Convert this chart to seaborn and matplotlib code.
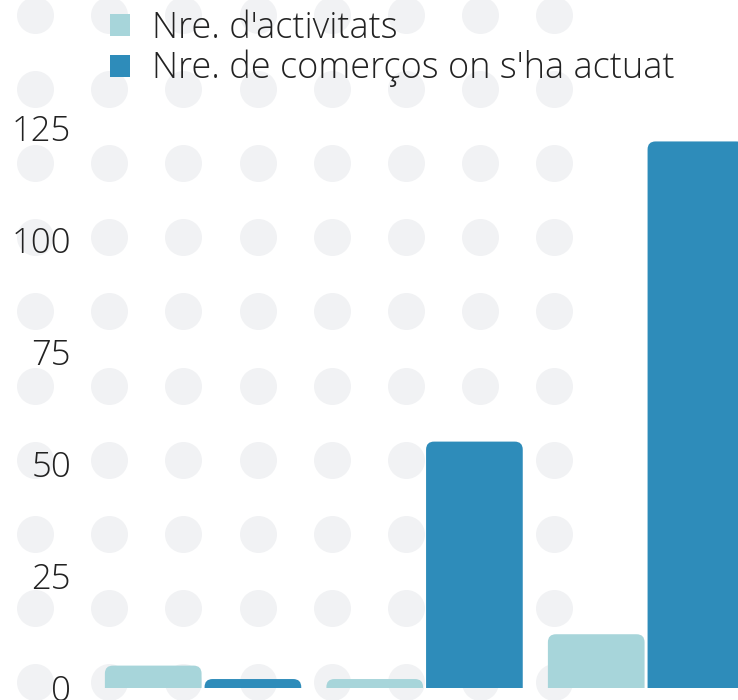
import numpy as np
import pandas as pd
import matplotlib
matplotlib.use("Agg")
import matplotlib.pyplot as plt
from matplotlib.patches import FancyBboxPatch, Patch
import seaborn as sns

# Dades
categories = ["Grup 1", "Grup 2", "Grup 3"]
activitats = [5, 2, 12]
comercos = [2, 55, 122]
series = ["Nre. d'activitats", "Nre. de comerços on s'ha actuat"]
colors = ["#a7d5da", "#2e8cba"]
yticks = [0, 25, 50, 75, 100, 125]

df = pd.DataFrame({
    "categoria": categories * 2,
    "valor": activitats + comercos,
    "serie": [series[0]] * len(categories) + [series[1]] * len(categories),
})

sns.set_theme(style="white")
plt.rcParams["font.family"] = ["Open Sans", "DejaVu Sans"]

W, H = 738, 700
fig = plt.figure(figsize=(W / 100, H / 100), dpi=100)

# fons de punts grisos
bg = fig.add_axes([0, 0, 1, 1], zorder=0)
bg.set_xlim(0, W)
bg.set_ylim(H, 0)
bg.axis("off")
gx, gy = np.meshgrid(35 + 74.2 * np.arange(8), 15 + 74.1 * np.arange(10))
bg.scatter(gx.ravel(), gy.ravel(), s=(37 * 0.72) ** 2, color="#f1f2f4", linewidths=0)

# eixos principals
left, bottom, top = 85, 12, 100
ax = fig.add_axes([left / W, bottom / H, (W - left) / W, (H - bottom - top) / H], zorder=1)
ax.patch.set_alpha(0)

sns.barplot(data=df, x="categoria", y="valor", hue="serie", hue_order=series,
            palette=colors, width=0.9, gap=0.03, saturation=1, legend=False, ax=ax)

xlim = (-0.533, 2.415)
ylim = (0, 131.25)
ax.set_xlim(*xlim)
ax.set_ylim(*ylim)

# cantonades superiors arrodonides
px_x = (W - left) / (xlim[1] - xlim[0])
px_y = (H - bottom - top) / (ylim[1] - ylim[0])
r = 8 / px_x
asp = px_x / px_y
for p in list(ax.patches):
    x, y, w, h = p.get_x(), p.get_y(), p.get_width(), p.get_height()
    extra = 12 / px_y
    rb = FancyBboxPatch((x, y - extra), w, h + extra,
                        boxstyle=f"round,pad=0,rounding_size={r}",
                        mutation_aspect=asp, fc=p.get_facecolor(), ec="none",
                        clip_on=True)
    p.remove()
    ax.add_patch(rb)

ax.set_yticks(yticks)
ax.set_yticklabels([str(v) for v in yticks], fontsize=25, color="#222222",
                   fontweight="light")
ax.tick_params(axis="y", length=0, pad=10)
ax.set_xticks([])
ax.set_xlabel("")
ax.set_ylabel("")
sns.despine(ax=ax, left=True, bottom=True)

handles = [Patch(facecolor=c, edgecolor="none") for c in colors]
leg = fig.legend(handles, series, loc="upper left", bbox_to_anchor=(92 / W, 1.0 + 8 / H),
                 frameon=False, handlelength=0.55, handleheight=0.55,
                 handletextpad=0.6, labelspacing=0.08, borderaxespad=0.1,
                 prop={"weight": "light", "size": 26})
for t in leg.get_texts():
    t.set_color("#222222")

fig.savefig("out.png", dpi=100)
